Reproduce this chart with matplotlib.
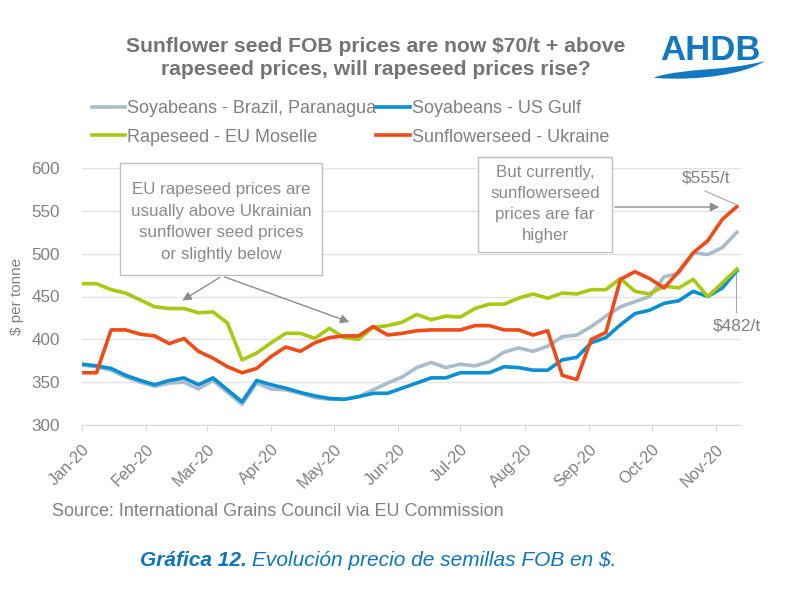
import numpy as np
import pandas as pd
import matplotlib
matplotlib.use("Agg")
import matplotlib.pyplot as plt
import matplotlib.dates as mdates
from matplotlib.patches import Rectangle, PathPatch, FancyArrowPatch
from matplotlib.path import Path

plt.rcParams['font.family'] = ['Liberation Sans', 'DejaVu Sans']

# weekly FOB prices, $/t
fechas = pd.date_range("2020-01-01", periods=46, freq="7D")

brazil = [370, 368, 364, 356, 350, 345, 349, 350, 342, 352, 338, 324, 349, 342, 341, 337,
          332, 330, 330, 333, 341, 349, 356, 367, 373, 367, 371, 369, 374, 385, 390, 386,
          392, 403, 405, 415, 427, 438, 444, 450, 473, 477, 501, 499, 507, 525]
usgulf = [371, 369, 366, 358, 352, 347, 352, 355, 347, 355, 341, 327, 352, 347, 343, 338,
          334, 331, 330, 333, 337, 337, 343, 349, 355, 355, 361, 361, 361, 368, 367, 364,
          364, 376, 379, 396, 402, 417, 430, 434, 442, 445, 456, 450, 460, 480]
rapeseed = [465, 465, 458, 454, 446, 438, 436, 436, 431, 432, 419, 376, 384, 396, 407, 407,
            401, 413, 402, 400, 414, 416, 420, 429, 423, 427, 426, 436, 441, 441, 448, 453,
            448, 454, 453, 458, 458, 471, 456, 453, 462, 460, 470, 450, 466, 482]
sunflower = [361, 361, 411, 411, 406, 404, 395, 401, 386, 378, 368, 361, 366, 380, 391, 386,
             396, 402, 404, 404, 415, 405, 407, 410, 411, 411, 411, 416, 416, 411, 411, 405,
             410, 358, 353, 400, 408, 470, 479, 471, 460, 479, 501, 515, 540, 555]

nombres = ["Soyabeans - Brazil, Paranagua", "Soyabeans - US Gulf",
           "Rapeseed - EU Moselle", "Sunflowerseed - Ukraine"]
colores = ["#A9BCCB", "#0A8FD3", "#A8C814", "#EE4B17"]

gris = "#808080"

W, H = 800, 590
def fx(px):
    return px / W
def fy(py):
    return 1 - py / H

fig = plt.figure(figsize=(8, 5.9), dpi=100)
ax = fig.add_axes([fx(82), fy(425), fx(741) - fx(82), fy(168) - fy(425)])

lineas = []
for serie, nom, col in zip([brazil, usgulf, rapeseed, sunflower], nombres, colores):
    l, = ax.plot(fechas, serie, color=col, lw=2.6, label=nom, solid_joinstyle="round")
    lineas.append(l)

ax.set_ylim(300, 600)
ax.set_yticks(np.arange(300, 601, 50))
ax.set_xlim(pd.Timestamp("2020-01-01"), pd.Timestamp("2020-11-13"))
ax.xaxis.set_major_locator(mdates.MonthLocator())
ax.xaxis.set_major_formatter(mdates.DateFormatter("%b-%y"))
ax.grid(axis="y", color="#e3e3e3", lw=1)
ax.set_axisbelow(True)
for s in ["top", "right", "left"]:
    ax.spines[s].set_visible(False)
ax.spines["bottom"].set_color("#d9d9d9")
ax.tick_params(axis="y", length=0, labelsize=12.3, labelcolor=gris, pad=16)
ax.tick_params(axis="x", length=4, color="#d9d9d9", labelsize=11.8, labelcolor=gris, pad=8)
for t in ax.get_xticklabels():
    t.set_rotation(45)
    t.set_ha("right")
    t.set_rotation_mode("anchor")
ax.set_ylabel("$ per tonne", color=gris, fontsize=11, labelpad=5)

# titulo
fig.text(fx(376), fy(58), "Sunflower seed FOB prices are now $70/t + above\nrapeseed prices, will rapeseed prices rise?",
         ha="center", va="center", fontsize=15.2, fontweight="bold", color="#747474", linespacing=1.3)

# logo AHDB
fig.text(fx(710), fy(51), "AHDB", ha="center", va="center", fontsize=25, fontweight="bold",
         color="#1478C0")
verts = [(655, 77), (690, 67), (722, 72), (765, 61),
         (745, 74), (700, 81), (655, 78)]
verts = [(fx(a), fy(b)) for a, b in verts]
codes = [Path.MOVETO, Path.CURVE4, Path.CURVE4, Path.CURVE4, Path.CURVE4, Path.CURVE4, Path.CURVE4]
fig.patches.append(PathPatch(Path(verts, codes), transform=fig.transFigure,
                             facecolor="#1478C0", edgecolor="none"))

# leyenda (orden por columnas)
orden = [0, 2, 1, 3]
fig.legend([lineas[i] for i in orden], [nombres[i] for i in orden], ncol=2,
           loc="upper left", bbox_to_anchor=(fx(92), fy(100)), frameon=False,
           fontsize=13, labelcolor=gris, handlelength=1.85, handletextpad=0.1,
           columnspacing=0.0, labelspacing=0.65, borderpad=0, borderaxespad=0)
for h in fig.legends[0].legend_handles:
    h.set_linewidth(2.6)

# cuadros de comentario
caja = "#bfbfbf"
fig.patches.append(Rectangle((fx(120), fy(275)), fx(322) - fx(120), fy(163) - fy(275),
                             transform=fig.transFigure, facecolor="white", edgecolor=caja, lw=1))
fig.text(fx(221), fy(222), "EU rapeseed prices are\nusually above Ukrainian\nsunflower seed prices\nor slightly below",
         ha="center", va="center", fontsize=12.2, color="#8a8a8a", linespacing=1.55)
fig.patches.append(Rectangle((fx(478), fy(252)), fx(612) - fx(478), fy(157) - fy(252),
                             transform=fig.transFigure, facecolor="white", edgecolor=caja, lw=1))
fig.text(fx(545), fy(204), "But currently,\nsunflowerseed\nprices are far\nhigher",
         ha="center", va="center", fontsize=12.2, color="#8a8a8a", linespacing=1.5)

flecha = "#8c8c8c"
for p0, p1 in [((222, 276), (180, 302)), ((222, 276), (352, 323)), ((612, 207), (722, 207))]:
    fig.patches.append(FancyArrowPatch((fx(p0[0]), fy(p0[1])), (fx(p1[0]), fy(p1[1])),
                                       transform=fig.transFigure, arrowstyle="-|>",
                                       mutation_scale=13, color=flecha, lw=1))

# etiquetas de precio
fig.text(fx(706), fy(178), "$555/t", ha="center", va="center", fontsize=12.5, color=gris)
fig.text(fx(737), fy(326), "$482/t", ha="center", va="center", fontsize=12.5, color=gris)
fig.lines.append(plt.Line2D([fx(705), fx(737)], [fy(191), fy(205)], transform=fig.transFigure,
                            color="#a6a6a6", lw=0.8))
fig.lines.append(plt.Line2D([fx(736), fx(736)], [fy(274), fy(312)], transform=fig.transFigure,
                            color="#a6a6a6", lw=0.8))

# fuente y pie
fig.text(fx(52), fy(512), "Source: International Grains Council via EU Commission",
         ha="left", va="center", fontsize=13, color=gris)
azul = "#0E74BB"
t1 = fig.text(fx(140), fy(561), "Gráfica 12.", ha="left", va="center", fontsize=15,
              fontweight="bold", style="italic", color=azul)
r = fig.canvas.get_renderer()
x1 = t1.get_window_extent(renderer=r).x1
fig.text((x1 + 5) / W, fy(561), "Evolución precio de semillas FOB en $.", ha="left", va="center",
         fontsize=15, style="italic", color=azul)

fig.savefig("out.png", dpi=100, facecolor="white")
